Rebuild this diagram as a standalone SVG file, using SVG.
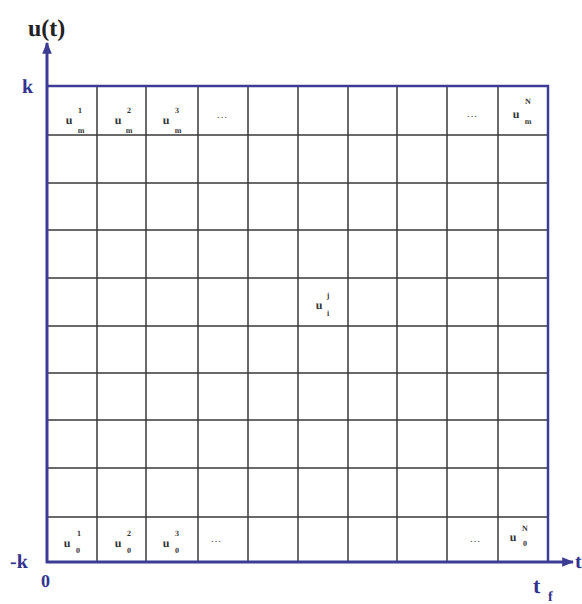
<svg xmlns="http://www.w3.org/2000/svg" width="582" height="604" viewBox="0 0 582 604">
<defs>
<style>
text{text-rendering:geometricPrecision}
.grid{stroke:#3a3a3a;stroke-width:1.5;fill:none}
.axis{stroke:#3c3c94;stroke-width:3;fill:none}
.border{stroke:#3c3c94;stroke-width:2.5;fill:none}
.u{font-family:"Liberation Serif",serif;font-size:12px;font-weight:bold;fill:#333;text-anchor:middle}
.s{font-family:"Liberation Serif",serif;font-size:8px;font-weight:bold;fill:#333;text-anchor:middle}
.dots{font-family:"Liberation Serif",serif;font-size:11px;fill:#444;text-anchor:middle}
.ax{font-family:"Liberation Serif",serif;font-weight:bold;fill:#33338f}
.title{font-family:"Liberation Serif",serif;font-weight:bold;fill:#222;font-size:24px}
</style>
<marker id="arr" viewBox="0 0 10 10" refX="9" refY="5" markerWidth="4" markerHeight="4" orient="auto" markerUnits="strokeWidth">
<path d="M0,1 L10,5 L0,9 Z" fill="#3c3c94"/>
</marker>
</defs>
<rect width="582" height="604" fill="#fff"/>
<g id="grid">
<path class="grid" d="M97,86V562M146,86V562M198,86V562M248,86V562M298,86V562M348,86V562M397,86V562M447,86V562M498,86V562"/>
<path class="grid" d="M47,135H548M47,183H548M47,230H548M47,278H548M47,326H548M47,373H548M47,420H548M47,468H548M47,517H548"/>
<path class="border" d="M47,86H548V562"/>
</g>
<g id="connectors">
<line class="axis" x1="47" y1="563" x2="47" y2="43" marker-end="url(#arr)"/>
<line class="axis" x1="46" y1="562" x2="573" y2="562" marker-end="url(#arr)"/>
</g>
<g id="axis-labels">
<text class="title" x="28" y="36">u(t)</text>
<text class="ax" x="22" y="93" font-size="20">k</text>
<text class="ax" x="10" y="568" font-size="20">-k</text>
<text class="ax" x="41" y="587" font-size="18">0</text>
<text class="ax" x="575" y="568" font-size="20">t</text>
<text class="ax" x="533" y="593" font-size="22">t</text>
<text class="ax" x="548" y="601" font-size="14">f</text>
</g>
<g id="top-row">
<text class="u" x="69" y="124">u</text><text class="s" x="80" y="113">1</text><text class="s" x="81" y="133">m</text>
<text class="u" x="118" y="124">u</text><text class="s" x="129" y="113">2</text><text class="s" x="129" y="133">m</text>
<text class="u" x="166" y="124">u</text><text class="s" x="177" y="113">3</text><text class="s" x="178" y="133">m</text>
<text class="dots" x="222" y="121">···</text>
<text class="dots" x="472" y="120">···</text>
<text class="u" x="516" y="118">u</text><text class="s" x="528" y="104">N</text><text class="s" x="528" y="124">m</text>
</g>
<g id="middle">
<text class="u" x="319" y="309">u</text><text class="s" x="328" y="298">j</text><text class="s" x="328" y="316">i</text>
</g>
<g id="bottom-row">
<text class="u" x="67" y="547">u</text><text class="s" x="79" y="536">1</text><text class="s" x="78" y="553">0</text>
<text class="u" x="118" y="547">u</text><text class="s" x="129" y="536">2</text><text class="s" x="129" y="553">0</text>
<text class="u" x="166" y="547">u</text><text class="s" x="177" y="536">3</text><text class="s" x="177" y="553">0</text>
<text class="dots" x="216" y="545">···</text>
<text class="dots" x="475" y="545">···</text>
<text class="u" x="513" y="541">u</text><text class="s" x="525" y="531">N</text><text class="s" x="525" y="546">0</text>
</g>
</svg>
